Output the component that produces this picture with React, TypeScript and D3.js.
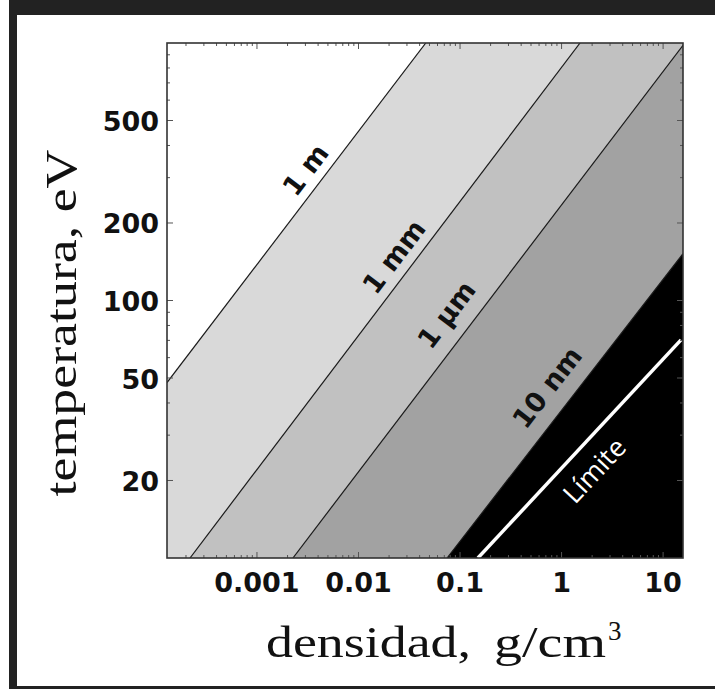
import * as d3 from "d3";
import { useEffect, useRef } from "react";

// axes
const densityDomain = [1.3e-4, 15.7];
const tempDomain = [10, 1000];
const densityTicks = [0.001, 0.01, 0.1, 1, 10];
const densityTickLabels = ["0.001", "0.01", "0.1", "1", "10"];
const tempTicks = [20, 50, 100, 200, 500];
const tempTickLabels = ["20", "50", "100", "200", "500"];

// mean free path contours, [density, temperature] where they cross the plot edges
const pathNames = ["1 m", "1 mm", "1 µm", "10 nm"];
const pathStart = [[1.3e-4, 48], [2.19e-4, 10], [2.26e-3, 10], [0.0745, 10]];
const pathEnd = [[0.046, 1000], [1.52, 1000], [15.7, 980], [15.7, 152]];
const pathLabelAt = [[3.0e-3, 322], [0.0223, 148], [0.0735, 88], [0.72, 46]];
const bandFills = ["#ffffff", "#d9d9d9", "#c1c1c1", "#a2a2a2", "#000000"];

// white "Límite" line
const limitStart = [0.15, 10];
const limitEnd = [15.0, 70.3];
const limitLabelAt = [2.07, 22.0];

const W = 715;
const H = 689;

const App = () => {
  const ref = useRef<SVGSVGElement>(null);

  useEffect(() => {
    const svg = d3.select(ref.current);
    svg.selectAll("*").remove();

    const margin = { top: 43, left: 167, right: W - 683, bottom: H - 558 };
    const x = d3.scaleLog().domain(densityDomain).range([margin.left, W - margin.right]);
    const y = d3.scaleLog().domain(tempDomain).range([H - margin.bottom, margin.top]);
    const [x0, x1] = x.range();
    const [y1, y0] = y.range();

    svg.append("rect").attr("width", W).attr("height", H).attr("fill", "#fff");

    // cropped picture frame
    svg.append("rect").attr("x", 9).attr("y", 0).attr("width", W - 9).attr("height", 15).attr("fill", "#222");
    svg.append("rect").attr("x", 9).attr("y", 0).attr("width", 8).attr("height", H).attr("fill", "#222");
    svg.append("rect").attr("x", 9).attr("y", 686).attr("width", W - 9).attr("height", 3).attr("fill", "#222");

    svg.append("clipPath").attr("id", "plotclip")
      .append("rect").attr("x", x0).attr("y", y0).attr("width", x1 - x0).attr("height", y1 - y0);

    const g = svg.append("g").attr("clip-path", "url(#plotclip)");
    g.append("rect").attr("x", x0).attr("y", y0).attr("width", x1 - x0).attr("height", y1 - y0)
      .attr("fill", bandFills[0]);

    // each band fills everything below / right of its contour
    const far = 400;
    pathStart.forEach((s, i) => {
      const e = pathEnd[i];
      const pts: [number, number][] = [
        [x(s[0]), y(s[1])],
        [x(e[0]), y(e[1])],
        [x1 + far, y0 - far],
        [x1 + far, y1 + far],
        [x0 - far, y1 + far],
      ];
      g.append("path")
        .attr("d", "M" + pts.map(p => p.join(",")).join("L") + "Z")
        .attr("fill", bandFills[i + 1]);
    });

    pathStart.forEach((s, i) => {
      const e = pathEnd[i];
      g.append("line")
        .attr("x1", x(s[0])).attr("y1", y(s[1]))
        .attr("x2", x(e[0])).attr("y2", y(e[1]))
        .attr("stroke", "#1a1a1a").attr("stroke-width", 1.2);
    });

    g.append("line")
      .attr("x1", x(limitStart[0])).attr("y1", y(limitStart[1]))
      .attr("x2", x(limitEnd[0])).attr("y2", y(limitEnd[1]))
      .attr("stroke", "#fff").attr("stroke-width", 3.5);

    // labels along the contours
    const angleOf = (s: number[], e: number[]) =>
      (Math.atan2(y(e[1]) - y(s[1]), x(e[0]) - x(s[0])) * 180) / Math.PI;

    pathNames.forEach((name, i) => {
      const a = angleOf(pathStart[i], pathEnd[i]);
      svg.append("text")
        .attr("transform", `translate(${x(pathLabelAt[i][0])},${y(pathLabelAt[i][1])}) rotate(${a})`)
        .attr("text-anchor", "middle")
        .attr("dominant-baseline", "central")
        .attr("font-family", "DejaVu Sans")
        .attr("font-weight", "bold")
        .attr("font-size", 27)
        .attr("fill", "#111")
        .text(name);
    });

    svg.append("text")
      .attr("transform", `translate(${x(limitLabelAt[0])},${y(limitLabelAt[1])}) rotate(${angleOf(limitStart, limitEnd)})`)
      .attr("text-anchor", "middle")
      .attr("dominant-baseline", "central")
      .attr("font-family", "Open Sans")
      .attr("font-size", 27)
      .attr("fill", "#fff")
      .text("Límite");

    // inward ticks on all four sides
    const tickCol = "#555";
    const isMajor = (v: number) => Math.abs(Math.log10(v) - Math.round(Math.log10(v))) < 1e-6;
    x.ticks().filter(v => x(v) > x0 + 1 && x(v) < x1 - 1).forEach(v => {
      const len = isMajor(v) ? 6 : 3;
      svg.append("line").attr("x1", x(v)).attr("x2", x(v)).attr("y1", y0).attr("y2", y0 + len)
        .attr("stroke", tickCol);
      svg.append("line").attr("x1", x(v)).attr("x2", x(v)).attr("y1", y1).attr("y2", y1 - len)
        .attr("stroke", tickCol);
    });
    y.ticks().filter(v => y(v) > y0 + 1 && y(v) < y1 - 1).forEach(v => {
      const len = tempTicks.includes(v) || isMajor(v) ? 6 : 3;
      svg.append("line").attr("y1", y(v)).attr("y2", y(v)).attr("x1", x0).attr("x2", x0 + len)
        .attr("stroke", tickCol);
      svg.append("line").attr("y1", y(v)).attr("y2", y(v)).attr("x1", x1).attr("x2", x1 - len)
        .attr("stroke", tickCol);
    });

    svg.append("rect")
      .attr("x", x0).attr("y", y0).attr("width", x1 - x0).attr("height", y1 - y0)
      .attr("fill", "none").attr("stroke", "#333").attr("stroke-width", 1.6);

    // tick labels
    densityTicks.forEach((v, i) => {
      svg.append("text")
        .attr("x", x(v)).attr("y", y1 + 34)
        .attr("text-anchor", "middle")
        .attr("font-family", "DejaVu Sans").attr("font-weight", "bold").attr("font-size", 27)
        .attr("fill", "#111")
        .text(densityTickLabels[i]);
    });
    tempTicks.forEach((v, i) => {
      svg.append("text")
        .attr("x", x0 - 8).attr("y", y(v) + 1)
        .attr("text-anchor", "end")
        .attr("dominant-baseline", "central")
        .attr("font-family", "DejaVu Sans").attr("font-weight", "bold").attr("font-size", 27)
        .attr("fill", "#111")
        .text(tempTickLabels[i]);
    });

    // axis titles
    const serif = "Liberation Serif";
    svg.append("text")
      .attr("x", 266).attr("y", 657)
      .attr("font-family", serif).attr("font-size", 44).attr("fill", "#111")
      .attr("textLength", 205).attr("lengthAdjust", "spacingAndGlyphs")
      .text("densidad,");
    svg.append("text")
      .attr("x", 494).attr("y", 657)
      .attr("font-family", serif).attr("font-size", 44).attr("fill", "#111")
      .attr("textLength", 112).attr("lengthAdjust", "spacingAndGlyphs")
      .text("g/cm");
    svg.append("text")
      .attr("x", 608).attr("y", 640)
      .attr("font-family", serif).attr("font-size", 27).attr("fill", "#111")
      .text("3");

    svg.append("text")
      .attr("transform", "translate(76,323) rotate(-90)")
      .attr("text-anchor", "middle")
      .attr("font-family", serif).attr("font-size", 44).attr("fill", "#111")
      .attr("textLength", 347).attr("lengthAdjust", "spacingAndGlyphs")
      .text("temperatura, eV");
  }, []);

  return (
    <svg
      ref={ref}
      width={W}
      height={H}
      style={{ position: "absolute", left: 0, top: 0, display: "block" }}
    />
  );
};

export default App;
